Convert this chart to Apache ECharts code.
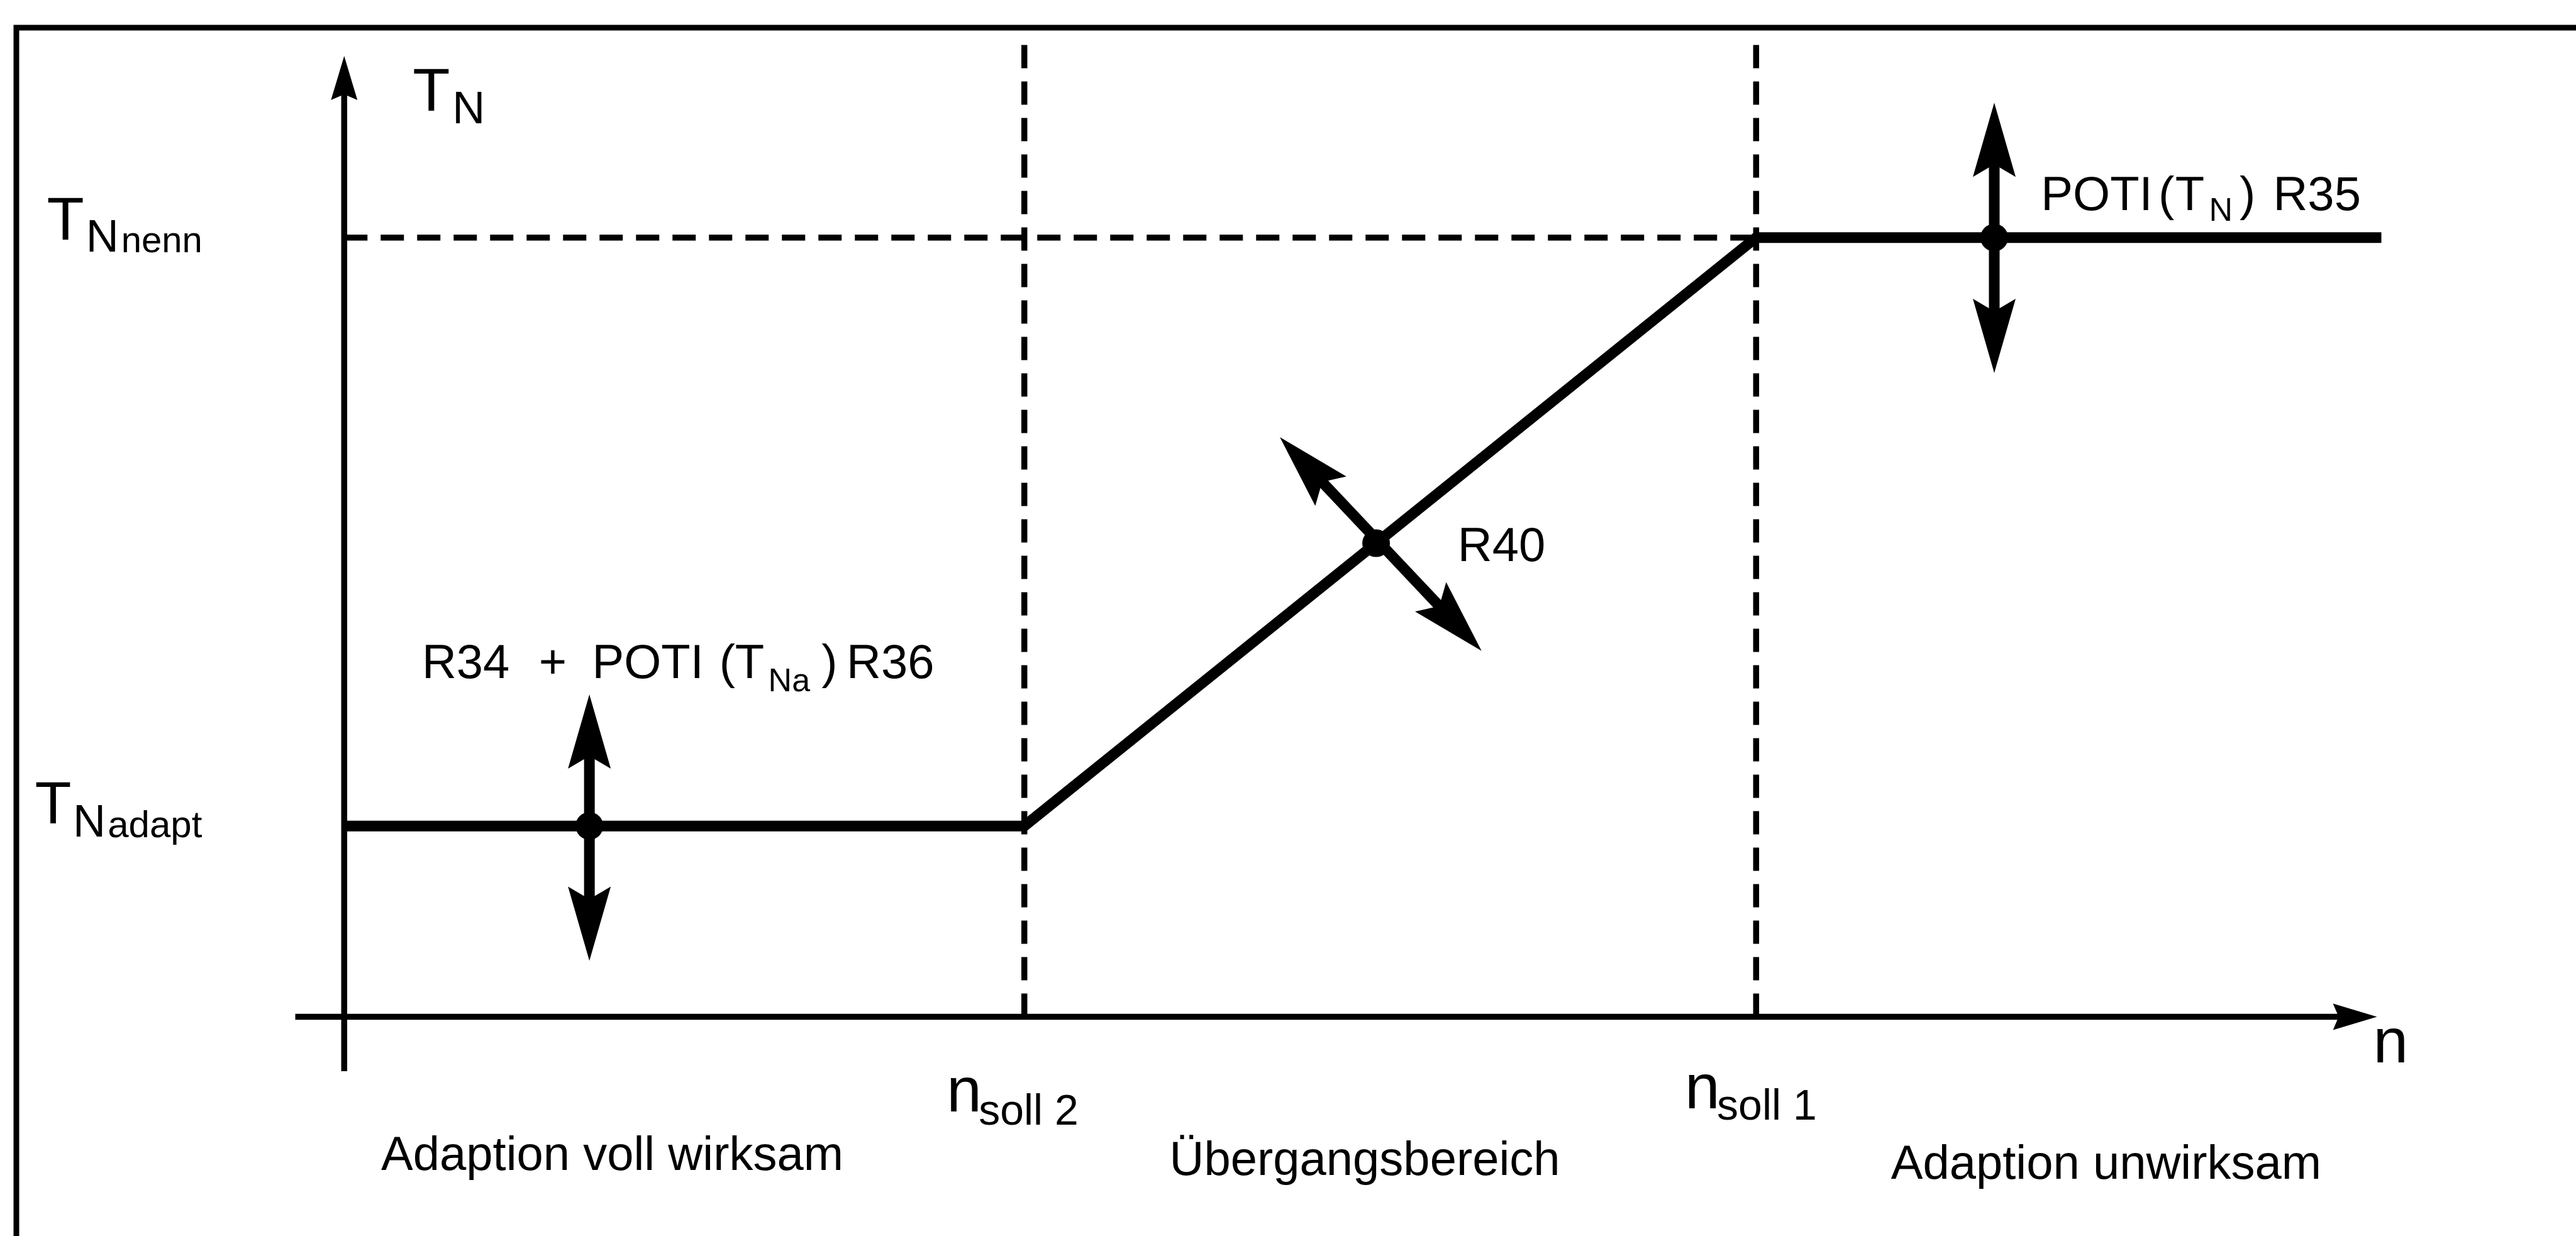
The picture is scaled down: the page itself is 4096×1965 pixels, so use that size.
<!DOCTYPE html>
<html>
<head>
<meta charset="utf-8">
<title>Nachstellzeit T_N in Abhängigkeit von n</title>
<script src="https://cdn.jsdelivr.net/npm/echarts@6/dist/echarts.min.js"></script>
<style>
  html, body { margin: 0; padding: 0; background: #fff; }
  #chart { width: 4096px; height: 1965px; }
</style>
</head>
<body>
<div id="chart"></div>
<script>
// Kennlinie T_N(n): Eckpunkte (n, T_N) in Zeichnungseinheiten
const curveN  = [0, 12.51, 25.97, 37.47];
const curveTN = [3.51, 3.51, 14.33, 14.33];

// Drehzahl-Schwellen n_soll 2 / n_soll 1 und Pegel T_N adapt / T_N nenn
const nSoll = [12.51, 25.97];
const tnLevels = [3.51, 14.33];

// Achsen: Anfang und Pfeilspitze
const nAxisRange  = [-0.90, 37.39];
const tnAxisRange = [-1.00, 17.67];
const guideTop = 17.90;

// Einstellpunkte (Potis / Widerstände) auf der Kennlinie: R34+R36, R40, R35
const trimPoints = [[4.51, 3.51], [18.98, 8.71], [30.35, 14.33]];
// Verstellpfeile je Einstellpunkt: [Anfang, Ende]
const trimArrows = [
  [[4.51, 1.03], [4.51, 5.93]],
  [[17.21, 10.66], [20.92, 6.73]],
  [[30.35, 11.84], [30.35, 16.81]]
];

// Beschriftung
const FONT = '"Liberation Sans", Arial, Helvetica, sans-serif';
const labels = [
  // Achsbeschriftung T_N
  { t: 'T', x: 1.26, y: 16.97, s: 97 },
  { t: 'N', x: 1.99, y: 16.66, s: 72 },
  // T_N nenn
  { t: 'T', x: -5.47, y: 14.60, s: 97 },
  { t: 'N', x: -4.75, y: 14.30, s: 72 },
  { t: 'nenn', x: -4.10, y: 14.24, s: 58 },
  // T_N adapt
  { t: 'T', x: -5.69, y: 3.86, s: 95 },
  { t: 'N', x: -4.99, y: 3.54, s: 72 },
  { t: 'adapt', x: -4.35, y: 3.49, s: 60 },
  // R34 + POTI (T_Na) R36
  { t: 'R34', x: 1.43, y: 6.47, s: 76 },
  { t: '+', x: 3.58, y: 6.47, s: 76 },
  { t: 'POTI', x: 4.56, y: 6.47, s: 76 },
  { t: '(', x: 6.90, y: 6.47, s: 76 },
  { t: 'T', x: 7.19, y: 6.47, s: 76 },
  { t: 'Na', x: 7.80, y: 6.15, s: 52 },
  { t: ')', x: 8.78, y: 6.47, s: 76 },
  { t: 'R36', x: 9.24, y: 6.47, s: 76 },
  // POTI (T_N) R35
  { t: 'POTI', x: 31.21, y: 15.08, s: 76 },
  { t: '(', x: 33.37, y: 15.08, s: 76 },
  { t: 'T', x: 33.68, y: 15.08, s: 76 },
  { t: 'N', x: 34.30, y: 14.80, s: 52 },
  { t: ')', x: 34.86, y: 15.08, s: 76 },
  { t: 'R35', x: 35.48, y: 15.08, s: 76 },
  // R40
  { t: 'R40', x: 20.48, y: 8.62, s: 76 },
  // n_soll 2, n_soll 1, n
  { t: 'n', x: 11.08, y: -1.42, s: 100 },
  { t: 'soll 2', x: 11.67, y: -1.77, s: 68 },
  { t: 'n', x: 24.66, y: -1.36, s: 100 },
  { t: 'soll 1', x: 25.25, y: -1.67, s: 68 },
  { t: 'n', x: 37.32, y: -0.52, s: 100 },
  // Bereiche
  { t: 'Adaption voll wirksam', x: 0.68, y: -2.57, s: 76 },
  { t: 'Übergangsbereich', x: 15.18, y: -2.66, s: 76 },
  { t: 'Adaption unwirksam', x: 28.45, y: -2.74, s: 76 }
];

const INK = '#000';

// Pfeil mit Schaft und einer oder zwei Spitzen (leicht eingekerbt)
function arrowRenderer(opt) {
  return function (params, api) {
    const a = api.coord([api.value(0), api.value(1)]);
    const b = api.coord([api.value(2), api.value(3)]);
    const dx = b[0] - a[0], dy = b[1] - a[1];
    const len = Math.hypot(dx, dy);
    const ux = dx / len, uy = dy / len;
    const nx = -uy, ny = ux;
    const head = function (tip, dirx, diry) {
      const bx = tip[0] - dirx * opt.headLen, by = tip[1] - diry * opt.headLen;
      const kx = tip[0] - dirx * (opt.headLen - opt.notch);
      const ky = tip[1] - diry * (opt.headLen - opt.notch);
      return {
        type: 'polygon',
        shape: { points: [tip, [bx + nx * opt.half, by + ny * opt.half], [kx, ky], [bx - nx * opt.half, by - ny * opt.half]] },
        style: { fill: INK }
      };
    };
    const back = opt.headLen - opt.notch - 2;
    const s0 = opt.both ? [a[0] + ux * back, a[1] + uy * back] : a;
    const s1 = [b[0] - ux * back, b[1] - uy * back];
    const children = [{
      type: 'line',
      shape: { x1: s0[0], y1: s0[1], x2: s1[0], y2: s1[1] },
      style: { stroke: INK, lineWidth: opt.width, lineCap: 'butt' }
    }, head(b, ux, uy)];
    if (opt.both) children.push(head(a, -ux, -uy));
    return { type: 'group', children: children };
  };
}

const dashed = { color: INK, width: 9.5, type: [37, 21], cap: 'butt' };

const series = [];

// senkrechte Hilfslinien bei n_soll 2 und n_soll 1
nSoll.forEach(function (n) {
  series.push({
    type: 'line', silent: true, symbol: 'none', z: 2,
    data: [[n, 0], [n, guideTop]],
    lineStyle: dashed
  });
});
// waagerechte Hilfslinie auf T_N nenn
series.push({
  type: 'line', silent: true, symbol: 'none', z: 2,
  data: [[0, tnLevels[1]], [nSoll[1], tnLevels[1]]],
  lineStyle: dashed
});

// Achsen mit Pfeilspitze
series.push({
  type: 'custom', z: 3, silent: true,
  renderItem: arrowRenderer({ headLen: 70, half: 21, notch: 9, width: 9.5, both: false }),
  data: [
    [0, tnAxisRange[0], 0, tnAxisRange[1]],
    [nAxisRange[0], 0, nAxisRange[1], 0]
  ]
});

// Kennlinie
series.push({
  type: 'line', silent: true, symbol: 'none', z: 4,
  data: curveN.map(function (n, i) { return [n, curveTN[i]]; }),
  lineStyle: { color: INK, width: 17, join: 'miter', cap: 'butt' }
});

// Verstellpfeile
series.push({
  type: 'custom', z: 5, silent: true,
  renderItem: arrowRenderer({ headLen: 118, half: 34, notch: 20, width: 17, both: true }),
  data: trimArrows.map(function (p) { return [p[0][0], p[0][1], p[1][0], p[1][1]]; })
});

// Einstellpunkte
series.push({
  type: 'scatter', silent: true, z: 6,
  symbol: 'circle', symbolSize: 44,
  itemStyle: { color: INK, opacity: 1 },
  data: trimPoints
});

// Texte
series.push({
  type: 'custom', z: 7, silent: true,
  renderItem: function (params, api) {
    const lb = labels[params.dataIndex];
    const p = api.coord([api.value(0), api.value(1)]);
    return {
      type: 'text', x: p[0], y: p[1],
      style: {
        text: lb.t, fill: INK, fontSize: lb.s, fontFamily: FONT,
        align: 'left', verticalAlign: 'middle'
      }
    };
  },
  data: labels.map(function (l) { return [l.x, l.y]; })
});

const chart = echarts.init(document.getElementById('chart'), null, { renderer: 'canvas' });
chart.setOption({
  backgroundColor: '#fff',
  animation: false,
  grid: { show: false, left: 26, top: 44, right: 0, bottom: 0 },
  xAxis: { type: 'value', min: -6.03, max: 41.05, show: false },
  yAxis: { type: 'value', min: -4.03, max: 18.19, show: false },
  // Rahmen links und oben
  graphic: [{
    type: 'polyline', silent: true, z: 1,
    shape: { points: [[26, 1980], [26, 44], [4110, 44]] },
    style: { stroke: INK, lineWidth: 9, fill: null, lineJoin: 'miter' }
  }],
  series: series
});
</script>
</body>
</html>
